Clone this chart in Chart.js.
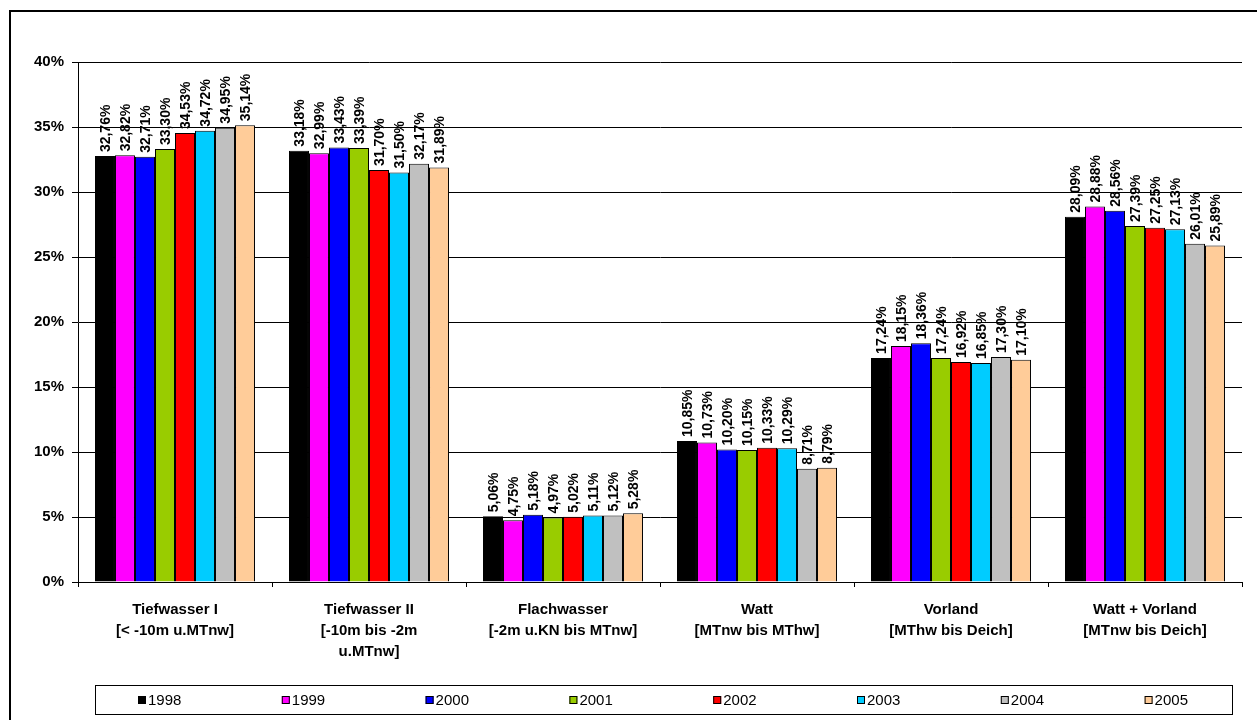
<!DOCTYPE html>
<html>
<head>
<meta charset="utf-8">
<title>Flächenanteile 1998–2005</title>
<script src="https://cdn.jsdelivr.net/npm/chart.js@4.4.1/dist/chart.umd.min.js"></script>
<style>
  html, body { margin: 0; padding: 0; background: #fff; }
  #wrap { width: 1257px; height: 720px; position: relative; }
</style>
</head>
<body>
<div id="wrap"><canvas id="c" width="1257" height="720"></canvas></div>
<script>
// Area classes (multi-line axis labels)
const categories = [
  ['Tiefwasser I', '[< -10m u.MTnw]'],
  ['Tiefwasser II', '[-10m bis -2m', 'u.MTnw]'],
  ['Flachwasser', '[-2m u.KN bis MTnw]'],
  ['Watt', '[MTnw bis MThw]'],
  ['Vorland', '[MThw bis Deich]'],
  ['Watt + Vorland', '[MTnw bis Deich]']
];

// Survey years
const years = ['1998', '1999', '2000', '2001', '2002', '2003', '2004', '2005'];

// Share of total area in percent, one array per year
const v1998 = [32.76, 33.18, 5.06, 10.85, 17.24, 28.09];
const v1999 = [32.82, 32.99, 4.75, 10.73, 18.15, 28.88];
const v2000 = [32.71, 33.43, 5.18, 10.20, 18.36, 28.56];
const v2001 = [33.30, 33.39, 4.97, 10.15, 17.24, 27.39];
const v2002 = [34.53, 31.70, 5.02, 10.33, 16.92, 27.25];
const v2003 = [34.72, 31.50, 5.11, 10.29, 16.85, 27.13];
const v2004 = [34.95, 32.17, 5.12, 8.71, 17.30, 26.01];
const v2005 = [35.14, 31.89, 5.28, 8.79, 17.10, 25.89];

// Percent axis
const yTicks = [0, 5, 10, 15, 20, 25, 30, 35, 40];

const seriesValues = [v1998, v1999, v2000, v2001, v2002, v2003, v2004, v2005];
const seriesColors = ['#000000', '#FF00FF', '#0000FF', '#99CC00', '#FF0000', '#00CCFF', '#C0C0C0', '#FFCC99'];

const FONT = "'Liberation Sans', Arial, sans-serif";

const fmt = v => v.toFixed(2).replace('.', ',') + '%';

// Vertical value labels above each bar
const barValueLabels = {
  id: 'barValueLabels',
  afterDatasetsDraw(chart) {
    const ctx = chart.ctx;
    ctx.save();
    ctx.font = 'bold 14px ' + FONT;
    ctx.fillStyle = '#000';
    ctx.textAlign = 'left';
    ctx.textBaseline = 'middle';
    chart.data.datasets.forEach((ds, di) => {
      const meta = chart.getDatasetMeta(di);
      meta.data.forEach((bar, i) => {
        ctx.save();
        ctx.translate(bar.x, bar.y - 4);
        ctx.rotate(-Math.PI / 2);
        ctx.fillText(fmt(ds.data[i]), 0, 1);
        ctx.restore();
      });
    });
    ctx.restore();
  }
};

// Boxed legend row and the outer frame
const boxedLegend = {
  id: 'boxedLegend',
  afterDraw(chart) {
    const ctx = chart.ctx;
    const area = chart.chartArea;
    ctx.save();
    // frame
    ctx.strokeStyle = '#000';
    ctx.lineWidth = 2;
    ctx.beginPath();
    ctx.moveTo(10, 720);
    ctx.lineTo(10, 11);
    ctx.lineTo(1257, 11);
    ctx.stroke();

    // legend box
    const bx = 95, by = area.bottom + 103, bw = 1137, bh = 29;
    ctx.lineWidth = 1;
    ctx.strokeRect(bx + 0.5, by + 0.5, bw, bh);
    const pitch = 143.8;
    ctx.font = '15px ' + FONT;
    ctx.textBaseline = 'middle';
    ctx.textAlign = 'left';
    chart.data.datasets.forEach((ds, di) => {
      const x = bx + 43 + di * pitch;
      const cy = by + bh / 2 + 0.5;
      ctx.fillStyle = ds.backgroundColor;
      ctx.fillRect(x, cy - 4, 8, 8);
      ctx.strokeStyle = '#000';
      ctx.strokeRect(x + 0.5, cy - 3.5, 7, 7);
      ctx.fillStyle = '#000';
      ctx.fillText(ds.label, x + 10, cy + 1);
    });
    ctx.restore();
  }
};

new Chart(document.getElementById('c'), {
  type: 'bar',
  data: {
    labels: categories,
    datasets: years.map((y, i) => ({
      label: y,
      data: seriesValues[i],
      backgroundColor: seriesColors[i],
      borderColor: '#000',
      borderWidth: 1,
      categoryPercentage: 0.825,
      barPercentage: 1.0
    }))
  },
  options: {
    responsive: false,
    animation: false,
    devicePixelRatio: 1,
    layout: { padding: { left: 0, top: 62, right: 15, bottom: 0 } },
    plugins: {
      legend: { display: false },
      tooltip: { enabled: false },
      title: { display: false }
    },
    scales: {
      x: {
        grid: { offset: true, drawOnChartArea: false, color: '#000', tickLength: 5, lineWidth: 1 },
        border: { display: true, color: '#000', width: 1 },
        ticks: {
          color: '#000',
          font: { family: FONT, size: 15, weight: 'bold', lineHeight: 1.4 },
          padding: 12,
          maxRotation: 0,
          autoSkip: false
        },
        afterFit(scale) { scale.height = 138; }
      },
      y: {
        min: 0,
        max: 40,
        afterBuildTicks(scale) { scale.ticks = yTicks.map(v => ({ value: v })); },
        grid: { color: '#000', lineWidth: 1, tickLength: 6, drawTicks: true },
        border: { display: true, color: '#000', width: 1 },
        ticks: {
          color: '#000',
          font: { family: FONT, size: 15, weight: 'bold' },
          padding: 8,
          callback: v => v + '%'
        },
        afterFit(scale) { scale.width = 78; }
      }
    }
  },
  plugins: [barValueLabels, boxedLegend]
});
</script>
</body>
</html>
